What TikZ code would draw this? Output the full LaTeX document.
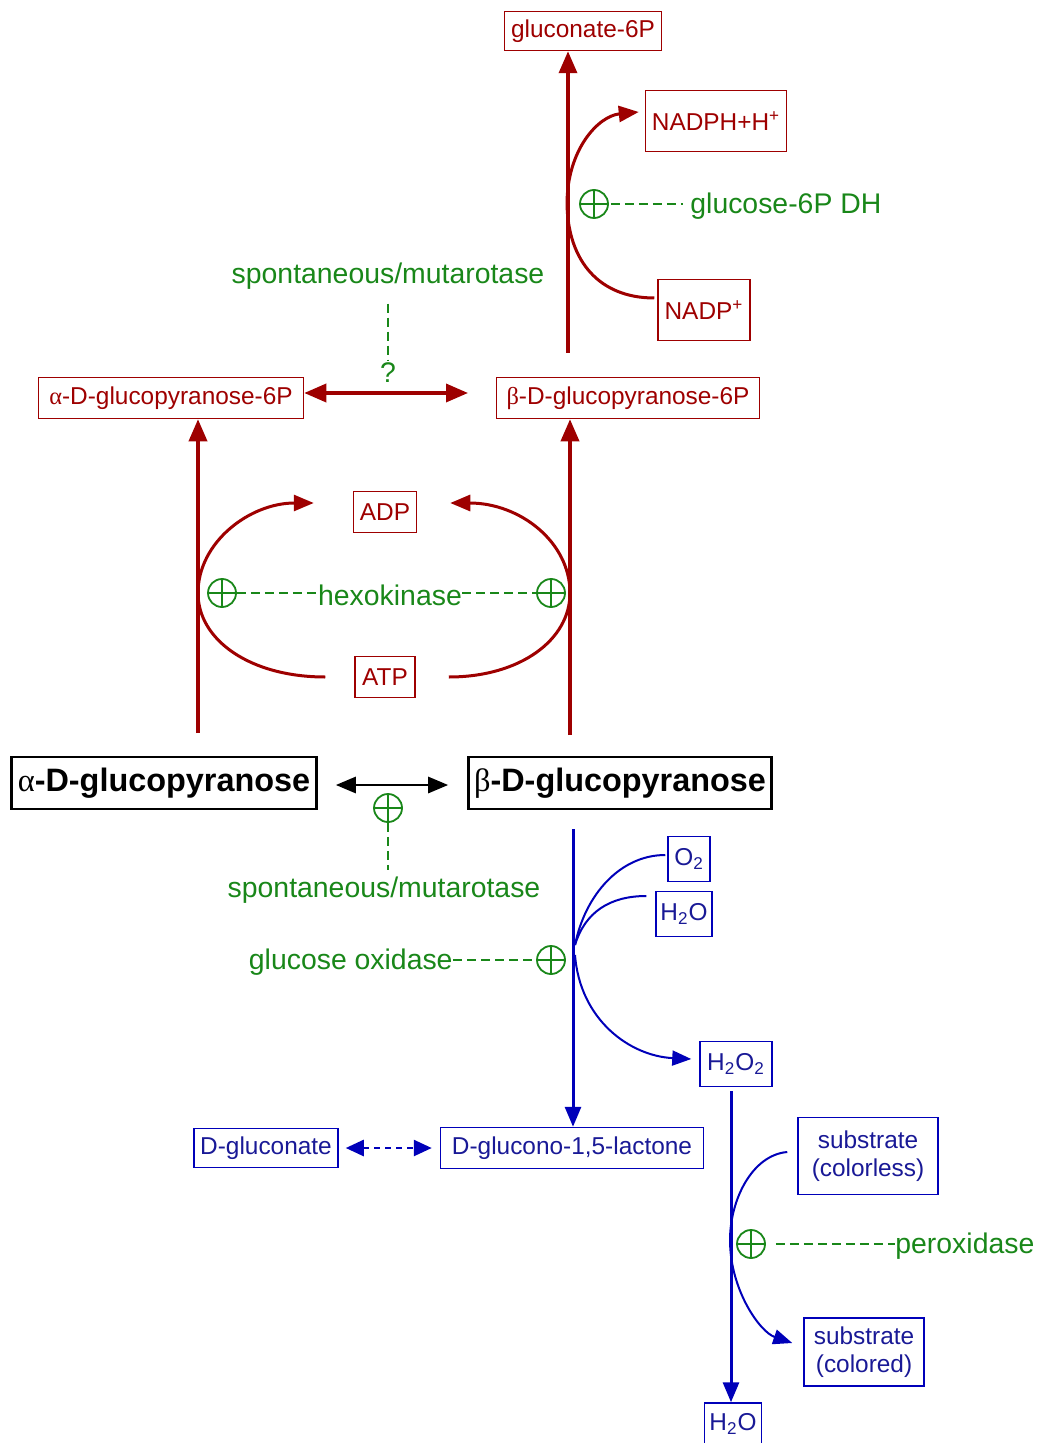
\documentclass[tikz,border=0pt]{standalone}
\usepackage{fontspec}
\setmainfont{Liberation Sans}
\newfontfamily\gk{Liberation Serif}
\usetikzlibrary{arrows.meta,calc}
\definecolor{rd}{RGB}{158,0,0}
\definecolor{gn}{RGB}{25,135,25}
\definecolor{bl}{RGB}{0,0,185}
\definecolor{bt}{RGB}{25,25,150}
\begin{document}
\begin{tikzpicture}[x=0.5pt,y=-0.5pt,
  box/.style={draw, inner sep=0pt, line width=0.75pt, font=\fontsize{12.2}{14}\selectfont, align=center},
  rbox/.style={box, draw=rd, text=rd},
  bbox/.style={box, draw=bl, text=bt},
  kbox/.style={draw=black, line width=1.3pt, inner sep=0pt, font=\fontsize{16.2}{19}\selectfont\bfseries},
  glab/.style={text=gn, font=\fontsize{14.2}{16}\selectfont, inner sep=0pt},
  pc/.style={circle, draw=gn, line width=0.9pt, minimum size=14pt, inner sep=0pt,
    path picture={\draw[gn, line width=0.9pt] (path picture bounding box.north) -- (path picture bounding box.south)
      (path picture bounding box.west) -- (path picture bounding box.east);}},
  gdash/.style={draw=gn, line width=1.1pt, dash pattern=on 4.5pt off 2.5pt},
  rline/.style={draw=rd, line width=1.75pt},
  rarr/.style={rline, -{Triangle[length=11pt,width=9pt]}},
  rcurve/.style={draw=rd, line width=1.5pt, -{Triangle[length=10pt,width=8pt]}},
  barr/.style={draw=bl, line width=1.5pt, -{Triangle[length=10pt,width=8pt]}},
  bcurve/.style={draw=bl, line width=1pt, -{Triangle[length=9.5pt,width=7.5pt]}},
  bcurven/.style={draw=bl, line width=1pt}
]
\useasboundingbox (0,0) rectangle (1041,1443);

% ---------- red nodes ----------
\node[rbox, minimum width=78.5pt, minimum height=19.5pt] (g6p) at (583,31) {gluconate-6P};
\node[rbox, minimum width=70.5pt, minimum height=30.5pt] (nadph) at (716,121) {NADPH+H\textsuperscript{+}};
\node[rbox, minimum width=46pt, minimum height=30.5pt] (nadp) at (704,310) {NADP\textsuperscript{+}};
\node[rbox, minimum width=132.5pt, minimum height=20.5pt] (a6p) at (171,398) {{\gk α}-D-glucopyranose-6P};
\node[rbox, minimum width=131.5pt, minimum height=20.5pt] (b6p) at (628,398) {{\gk β}-D-glucopyranose-6P};
\node[rbox, minimum width=31.5pt, minimum height=20.5pt] (adp) at (385,512) {ADP};
\node[rbox, minimum width=30pt, minimum height=20.5pt] (atp) at (385,677) {ATP};

% ---------- black nodes ----------
\node[kbox, minimum width=152.5pt, minimum height=26pt] (aglc) at (164,783) {{\gk\mdseries α}-D-glucopyranose};
\node[kbox, minimum width=151.5pt, minimum height=26pt] (bglc) at (620,783) {{\gk\mdseries β}-D-glucopyranose};

% ---------- blue nodes ----------
\node[bbox, minimum width=21pt, minimum height=22.5pt] (o2) at (689,859) {O\textsubscript{2}};
\node[bbox, minimum width=28pt, minimum height=22.5pt] (h2o) at (684,914) {H\textsubscript{2}O};
\node[bbox, minimum width=36pt, minimum height=22.5pt] (h2o2) at (736,1064) {H\textsubscript{2}O\textsubscript{2}};
\node[bbox, minimum width=131.5pt, minimum height=20.5pt] (lac) at (572,1148) {D-glucono-1,5-lactone};
\node[bbox, minimum width=72pt, minimum height=19.5pt] (glcn) at (266,1148) {D-gluconate};
\node[bbox, minimum width=70pt, minimum height=38.5pt] (sless) at (868,1156) {substrate\\(colorless)};
\node[bbox, minimum width=60pt, minimum height=34pt] (sred) at (864,1352) {substrate\\(colored)};
\node[bbox, minimum width=28.5pt, minimum height=21pt] (h2ob) at (733,1424) {H\textsubscript{2}O};

% ---------- green labels and activators ----------
\node[pc] (p1) at (594,204) {};
\node[glab, anchor=west] (g6pdh) at (690,206) {glucose-6P DH};
\node[glab] (spon1) at (388,276) {spontaneous/mutarotase};
\node[glab] (q) at (388,373) {?};
\node[pc] (p2) at (222,593) {};
\node[pc] (p3) at (551,593) {};
\node[glab] (hk) at (390,595) {hexokinase};
\node[pc] (p4) at (388,808) {};
\node[glab] (spon2) at (384,890) {spontaneous/mutarotase};
\node[pc] (p5) at (551,960) {};
\node[glab, anchor=east] (gox) at (453,962) {glucose oxidase};
\node[pc] (p6) at (751,1244) {};
\node[glab, anchor=west] (pox) at (895,1246) {peroxidase};

\draw[gdash] (p1.east) ++(2,0) -- ($(p1.east)+(74,0)$);
\draw[gdash] ($(spon1.south)+(0,14)$) -- ($(q.north)+(0,-2)$);
\draw[gdash] (p2.east) -- (p2.east -| hk.west);
\draw[gdash] (p3.west -| hk.east) -- (p3.west);
\draw[gdash] (p4.south) -- (p4.south |- 0,870);
\draw[gdash] (p5.west -| gox.east) -- (p5.west);
\draw[gdash] (p6.east) ++(10,0) -- (p6.east -| pox.west);

% ---------- coordinates ----------
\coordinate (r0) at (568,353);
\coordinate (l0) at (198,733);
\coordinate (m0) at (570,735);
\coordinate (b0) at (573,829);
\coordinate (h0) at (731,1091);

% ---------- red connectors ----------
\draw[rarr] (r0) -- (r0 |- g6p.south);
\draw[rcurve] ($(nadp.west)+(-3,-12)$) .. controls (600,298) and (568,262) .. (567,204)
   .. controls (567,150) and (598,116) .. ($(nadph.west)+(-6,-9)$);
\draw[rline, {Triangle[length=11pt,width=9pt]}-{Triangle[length=11pt,width=9pt]}] (a6p.east |- 0,393) -- (468,393);
\draw[rarr] (l0) -- (l0 |- a6p.south);
\draw[rarr] (m0) -- (m0 |- b6p.south);
\draw[rcurve] ($(atp.west)+(-29,0)$) .. controls (250,677) and (198,640) .. (198,593)
   .. controls (198,542) and (250,503) .. ($(adp.west)+(-39,-9)$);
\draw[rcurve] ($(atp.east)+(33,0)$) .. controls (520,677) and (570,640) .. (570,593)
   .. controls (570,542) and (520,503) .. ($(adp.east)+(33,-9)$);

% ---------- black connector ----------
\draw[line width=1.4pt, {Triangle[length=10pt,width=8pt]}-{Triangle[length=10pt,width=8pt]}] ($(aglc.east)+(18,2)$) -- ($(bglc.west)+(-19,2)$);

% ---------- blue connectors ----------
\draw[barr] (b0) -- (b0 |- lac.north);
\draw[bcurven] ($(o2.west)+(-2,-4)$) .. controls (620,855) and (585,895) .. (575,945);
\draw[bcurven] ($(h2o.west)+(-9,-18)$) .. controls (610,896) and (585,912) .. (575,945);
\draw[bcurve] (575,955) .. controls (580,1020) and (630,1056) .. ($(h2o2.west)+(-8,-5)$);
\draw[draw=bl, line width=1.3pt, dash pattern=on 3pt off 2.5pt,
   {Triangle[length=9pt,width=8pt]}-{Triangle[length=9pt,width=8pt]}] ($(glcn.east)+(7,0)$) -- ($(lac.west)+(-8,0)$);
\draw[barr] (h0) -- (h0 |- h2ob.north);
\draw[bcurve] ($(sless.west)+(-10,-4)$) .. controls (752,1155) and (730,1200) .. (730,1240)
   .. controls (730,1290) and (760,1332) .. ($(sred.west)+(-11,-9)$);
\end{tikzpicture}
\end{document}
